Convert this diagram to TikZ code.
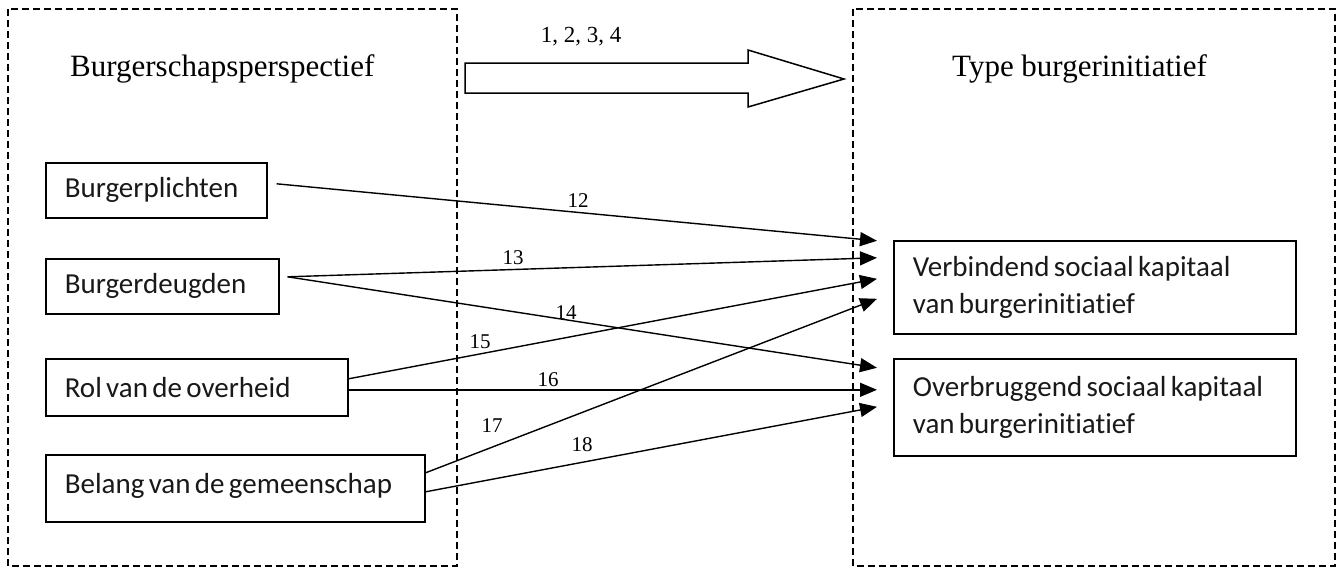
\documentclass[tikz,border=0pt]{standalone}
\usepackage{fontspec}
\setmainfont{Liberation Serif}
\newfontfamily\boxfont[Ligatures=NoCommon]{Carlito}
\newcommand\myboxsetup{\boxfont\fontsize{29}{37}\selectfont\hyphenpenalty=10000\relax}
\usetikzlibrary{arrows.meta,calc}
\begin{document}
\begin{tikzpicture}[x=1pt,y=-1pt,
  frame/.style={draw=black, line width=1.3pt, dash pattern=on 7pt off 4pt},
  titletext/.style={font=\fontsize{31}{36}\selectfont, anchor=base west, inner sep=0pt},
  itembox/.style={draw=black, line width=1.6pt, anchor=north west, inner xsep=19pt, inner ysep=0pt, align=flush left, font=\myboxsetup, text=black!90, execute at begin node={\spaceskip=0.15em plus 0.02em\relax\xspaceskip=\spaceskip}},
  link/.style={-{Triangle[length=17pt,width=14pt]}, line width=1.4pt},
  numlab/.style={font=\fontsize{21}{24}\selectfont, inner sep=0pt},
  bigarrow/.style={draw=black, line width=1.5pt, fill=white},
]
\useasboundingbox (0,0) rectangle (1341,570);
\fill[white] (0,0) rectangle (1341,570);

% dashed frames
\draw[frame] (8,9) rectangle (457,566);
\draw[frame] (853,9) rectangle (1335,566);

% titles
\node[titletext] (t1) at (70,76) {Burgerschapsperspectief};
\node[titletext] (t2) at (952,76) {Type burgerinitiatief};

% big arrow
\draw[bigarrow] (465,63) -- (748,63) -- (748,50) -- (844,79) -- (748,107) -- (748,93) -- (465,93) -- cycle;
\node[font=\fontsize{23}{26}\selectfont, inner sep=0pt] (lab1) at (581,37) {1, 2, 3, 4};

% left boxes
\node[itembox, text width=183pt, minimum height=55pt] (bp) at (45,162) {Burgerplichten};
\node[itembox, text width=195pt, minimum height=55pt] (bd) at (45,258) {Burgerdeugden};
\node[itembox, text width=264pt, minimum height=57pt] (rol) at (45,358) {Rol van de overheid};
\node[itembox, text width=341pt, minimum height=67pt] (bel) at (45,454) {\raisebox{10pt}{Belang van de gemeenschap}};

% right boxes
\node[itembox, text width=364pt, minimum height=93pt] (ver) at (893,240) {Verbindend sociaal kapitaal\\van burgerinitiatief};
\node[itembox, text width=364pt, minimum height=97pt] (ovb) at (893,358) {Overbruggend sociaal kapitaal\\van burgerinitiatief};

% connector endpoints
\coordinate (s12) at ($(bp.east)+(9,-6.5)$);
\coordinate (s13) at ($(bd.east)+(8,-9.5)$);
\coordinate (s15) at ($(rol.east)+(0,-8.5)$);
\coordinate (s16) at ($(rol.east)+(0,2.5)$);
\coordinate (s17) at ($(bel.east)+(0,-15.5)$);
\coordinate (s18) at ($(bel.east)+(0,3.5)$);
\coordinate (e12) at ($(ver.west)+(-16,-46.5)$);
\coordinate (e13) at ($(ver.west)+(-16,-29.5)$);
\coordinate (e15) at ($(ver.west)+(-16,-8.5)$);
\coordinate (e17) at ($(ver.west)+(-16,11.5)$);
\coordinate (e14) at ($(ovb.west)+(-16,-39.5)$);
\coordinate (e16) at ($(ovb.west)+(-16,-17.5)$);
\coordinate (e18) at ($(ovb.west)+(-16,-0.5)$);

% connectors
\draw[link] (s12) -- (e12);
\draw[link] (s13) -- (e13);
\draw[link] (s13) -- (e14);
\draw[link] (s15) -- (e15);
\draw[link] (s16) -- (e16);
\draw[link] (s17) -- (e17);
\draw[link] (s18) -- (e18);

% labels
\node[numlab] (l12) at (578,201) {12};
\node[numlab] (l13) at (513,258) {13};
\node[numlab] (l14) at (566,313) {14};
\node[numlab] (l15) at (480,342) {15};
\node[numlab] (l16) at (548,380) {16};
\node[numlab] (l17) at (492,426) {17};
\node[numlab] (l18) at (582,445) {18};
\end{tikzpicture}
\end{document}
